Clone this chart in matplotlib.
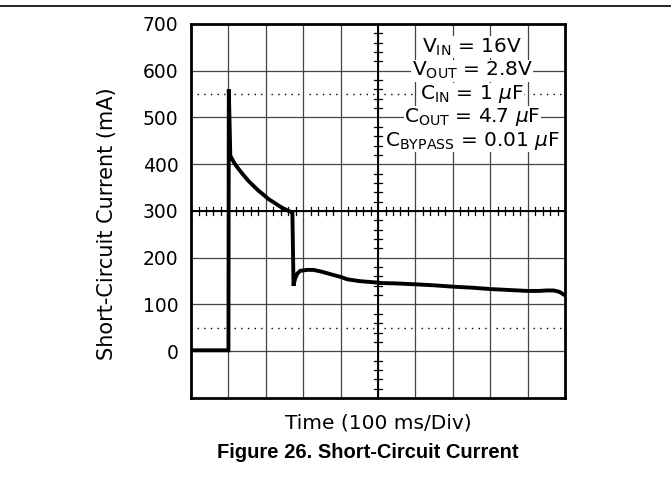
import numpy as np
import matplotlib.pyplot as plt

# short-circuit current trace (ms, mA)
t_ms = [0, 100, 101, 105, 116, 128, 141, 154, 168, 181, 195, 208, 222, 235, 248,
        261, 268, 271, 274, 278, 284, 292, 310, 327, 350, 372, 400, 417, 450,
        497, 506, 550, 604, 650, 702, 750, 800, 850, 899, 930, 950, 970, 985, 997]
i_ma = [2, 2, 560, 418, 402, 389, 376, 364, 353, 343, 334, 325, 318, 311, 305,
        300, 298, 297, 140, 155, 166, 172, 174, 174, 170, 165, 159, 154, 150,
        147, 146, 145, 143, 141, 138, 136, 133, 131, 129, 129, 130, 130, 127, 121]

labels = ['0', '100', '200', '300', '400', '500', '600', '700']
y_ticks = [0, 100, 200, 300, 400, 500, 600, 700]
notes = [r'V$_{\mathrm{IN}}$ = 16V', r'V$_{\mathrm{OUT}}$ = 2.8V', r'C$_{\mathrm{IN}}$ = 1 $\mu$F',
         r'C$_{\mathrm{OUT}}$ = 4.7 $\mu$F', r'C$_{\mathrm{BYPASS}}$ = 0.01 $\mu$F']
note_y = [650, 600, 550, 500, 450]

fig = plt.figure(figsize=(6.71, 4.78), dpi=100)
ax = fig.add_axes([0.2847, 0.1674, 0.5574, 0.7824])
ax.set_xlim(0, 1000)
ax.set_ylim(-100, 700)

# scope graticule
for x in range(100, 1000, 100):
    ax.axvline(x, color='#444444', lw=0.9, zorder=1)
for y in range(0, 700, 100):
    ax.axhline(y, color='#444444', lw=0.9, zorder=1)
ax.axvline(500, color='black', lw=1.4, zorder=2)
ax.axhline(300, color='black', lw=1.4, zorder=2)
for k in range(0, 50):
    x = k * 20
    if x % 100:
        ax.plot([x, x], [291, 309], color='black', lw=0.9, zorder=2)
for k in range(-5, 35):
    y = k * 20
    if y % 100:
        ax.plot([490, 510], [y, y], color='black', lw=0.9, zorder=2)

# dotted reference levels
for lvl in [550, 50]:
    for x in range(0, 1000, 100):
        ax.plot([x + 15, x + 90], [lvl, lvl], color='black', lw=1.0,
                linestyle=(0, (1, 3.8)), zorder=1)

ax.plot(t_ms, i_ma, color='black', lw=2.8, solid_joinstyle='miter', zorder=4)

for txt, y in zip(notes, note_y):
    ax.text(752, y, txt, ha='center', va='center', fontsize=14.5, zorder=5,
            bbox=dict(facecolor='white', edgecolor='none', pad=0.3))

ax.set_xticks([])
ax.set_yticks(y_ticks)
ax.set_yticklabels(labels, fontsize=13.5)
ax.tick_params(axis='y', length=0, pad=9)
for s in ax.spines.values():
    s.set_linewidth(2)

ax.set_ylabel('Short-Circuit Current (mA)', fontsize=15)
ax.yaxis.set_label_coords(-0.198, 0.465)
ax.set_xlabel('Time (100 ms/Div)', fontsize=14.5, labelpad=11)
fig.text(0.548, 0.054, 'Figure 26. Short-Circuit Current', ha='center', va='center',
         fontsize=14.5, fontweight='bold', family='Liberation Sans')

fig.add_artist(plt.Line2D([0, 1], [0.987, 0.987], color='black', lw=1.2))

plt.savefig('out.png')
